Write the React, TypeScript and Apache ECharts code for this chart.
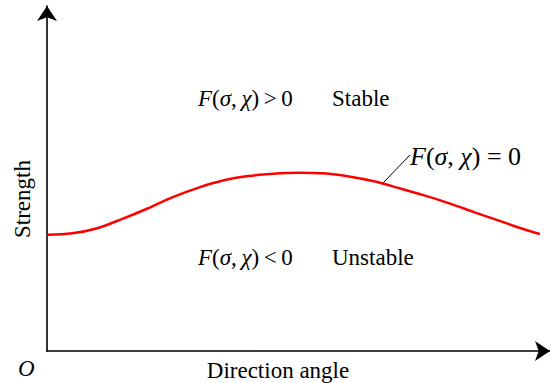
import React, { useEffect, useRef } from "react";
import * as echarts from "echarts";

// Stability boundary F(σ, χ) = 0: strength versus direction angle
const angle = [0, 5, 10, 15, 20, 25, 30, 35, 40, 45, 50, 55, 60, 65, 70, 75, 80, 85, 90, 95, 98];
const strength = [33.7, 34.1, 35.6, 38.3, 41.3, 44.6, 47.3, 49.4, 50.7, 51.4, 51.7, 51.5, 50.6, 49.2, 47.2, 45.1, 42.8, 40.2, 37.7, 35.2, 33.9];

const xName = "Direction angle";
const yName = "Strength";
const stableWord = "Stable";
const unstableWord = "Unstable";

const FONT = "'Liberation Serif', 'Times New Roman', serif";
const FS = 23;

// sp: separator used after the comma and around the relation sign
function mathText(x: number, y: number, rel: string, size: number, sp: string) {
  const base = { fontFamily: FONT, fontSize: size, fill: "#000" };
  return {
    type: "text",
    x,
    y,
    style: {
      text: `{it|F}{rm|(}{it|σ}{rm|,${sp}}{it|χ}{rm|)${sp}${rel}${sp}0}`,
      rich: {
        it: { ...base, fontStyle: "italic" },
        rm: { ...base, fontStyle: "normal" },
      },
      font: `${size}px ${FONT}`,
      verticalAlign: "middle",
      fill: "#000",
    },
  };
}

function plainText(x: number, y: number, text: string, extra: Record<string, unknown> = {}) {
  return {
    type: "text",
    x,
    y,
    ...extra,
    style: {
      text,
      fontFamily: FONT,
      fontSize: FS,
      verticalAlign: "middle",
      fill: "#000",
      ...((extra.style as object) || {}),
    },
  };
}

export default function App() {
  const ref = useRef<HTMLDivElement>(null);

  useEffect(() => {
    if (!ref.current) return;
    const chart = echarts.init(ref.current, null, { renderer: "svg" });
    const axisLine = {
      show: true,
      symbol: ["none", "arrow"],
      symbolSize: [15, 15],
      lineStyle: { color: "#000", width: 1.6 },
    };
    const hidden = {
      axisTick: { show: false },
      axisLabel: { show: false },
      splitLine: { show: false },
    };
    chart.setOption({
      animation: false,
      backgroundColor: "#fff",
      grid: { left: 47, right: 0, top: 6, bottom: 32, containLabel: false },
      xAxis: { type: "value", min: 0, max: 100, axisLine, ...hidden },
      yAxis: { type: "value", min: 0, max: 100, axisLine, ...hidden },
      series: [
        {
          type: "line",
          data: angle.map((a, i) => [a, strength[i]]),
          smooth: 0.35,
          symbol: "none",
          lineStyle: { color: "#ff0000", width: 2.5 },
        },
      ],
      graphic: [
        mathText(198, 98, ">", FS, "\u2009"),
        plainText(332, 98, stableWord),
        mathText(198, 257, "<", FS, "\u2009"),
        plainText(332, 257, unstableWord),
        mathText(410, 156, "=", 26, " "),
        {
          type: "line",
          shape: { x1: 383, y1: 183, x2: 410, y2: 155 },
          style: { stroke: "#000", lineWidth: 1 },
        },
        plainText(278, 370, xName, { style: { align: "center" } }),
        plainText(22, 199, yName, { rotation: Math.PI / 2, style: { align: "center" } }),
        plainText(18, 368, "O", { style: { fontStyle: "italic" } }),
      ],
    });
    return () => chart.dispose();
  }, []);

  return (
    <div
      ref={ref}
      style={{ position: "fixed", left: 0, top: 0, width: 550, height: 383, background: "#fff" }}
    />
  );
}
